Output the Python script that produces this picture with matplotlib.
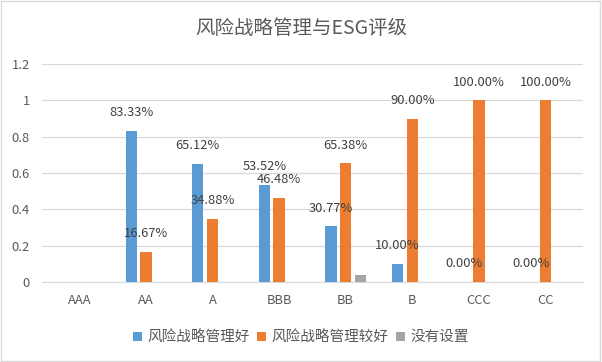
import matplotlib.pyplot as plt
import numpy as np
from matplotlib.patches import Rectangle

plt.rcParams['font.family'] = ['Noto Sans CJK SC', 'DejaVu Sans']

# data
categories = ['AAA', 'AA', 'A', 'BBB', 'BB', 'B', 'CCC', 'CC']
good = [np.nan, 0.8333, 0.6512, 0.5352, 0.3077, 0.10, 0.0, 0.0]
fair = [np.nan, 0.1667, 0.3488, 0.4648, 0.6538, 0.90, 1.0, 1.0]
none_set = [np.nan, np.nan, np.nan, np.nan, 0.0385, np.nan, np.nan, np.nan]
series_names = ['风险战略管理好', '风险战略管理较好', '没有设置']

colors = ['#5B9BD5', '#ED7D31', '#A5A5A5']
txt = '#595959'

fig = plt.figure(figsize=(6.02, 3.62), dpi=100)
ax = fig.add_axes([0.07, 0.221, 0.898, 0.602])

x = np.arange(len(categories))
w = 0.17
step = 0.222
all_series = [good, fair, none_set]
for i, vals in enumerate(all_series):
    pos = x + (i - 1) * step
    ax.bar(pos, vals, width=w, color=colors[i], label=series_names[i], zorder=3)
    if i < 2:
        for p, v in zip(pos, vals):
            if not np.isnan(v):
                ax.annotate('%.2f%%' % (v * 100), (p, v), xytext=(0, 13),
                            textcoords='offset points', ha='center', va='center',
                            fontsize=9.3, color='#404040', zorder=10)

ax.set_xlim(-0.56, len(categories) - 0.44)
ax.set_ylim(0, 1.2)
ax.set_yticks([0, 0.2, 0.4, 0.6, 0.8, 1, 1.2])
ax.set_yticklabels(['0', '0.2', '0.4', '0.6', '0.8', '1', '1.2'])
ax.set_xticks(x)
ax.set_xticklabels(categories)
ax.tick_params(axis='both', length=0, labelsize=9.3, labelcolor=txt)
ax.tick_params(axis='y', pad=9)
ax.tick_params(axis='x', pad=9)
ax.grid(axis='y', color='#D9D9D9', linewidth=0.9, zorder=0)
for s in ['top', 'right', 'left']:
    ax.spines[s].set_visible(False)
ax.spines['bottom'].set_color('#D9D9D9')
ax.spines['bottom'].set_zorder(0)

fig.text(0.5, 0.922, '风险战略管理与ESG评级', ha='center', va='center',
         fontsize=14, color=txt)

fig.legend(loc='center', bbox_to_anchor=(0.5, 0.068), ncol=3, frameon=False,
           fontsize=10.5, labelcolor=txt, handlelength=0.6, handleheight=0.6,
           handletextpad=0.4, columnspacing=0.5)

fig.patches.append(Rectangle((0.002, 0.003), 0.995, 0.993, transform=fig.transFigure,
                             fill=False, edgecolor='#D9D9D9', linewidth=1))

fig.savefig('out.png', dpi=100)
